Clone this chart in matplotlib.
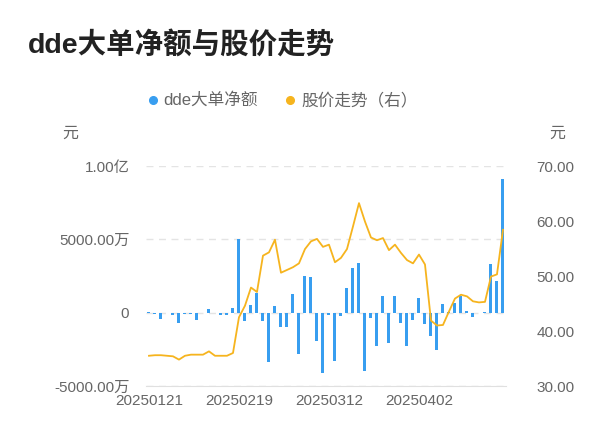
import matplotlib.pyplot as plt
from matplotlib.lines import Line2D
import numpy as np

plt.rcParams['font.family'] = ['Liberation Sans', 'Noto Sans CJK SC', 'DejaVu Sans']

dates = ['20250121', '20250122', '20250123', '20250124', '20250127', '20250205', '20250206',
         '20250207', '20250210', '20250211', '20250212', '20250213', '20250214', '20250217',
         '20250218', '20250219', '20250220', '20250221', '20250224', '20250225', '20250226',
         '20250227', '20250228', '20250303', '20250304', '20250305', '20250306', '20250307',
         '20250310', '20250311', '20250312', '20250313', '20250314', '20250317', '20250318',
         '20250319', '20250320', '20250321', '20250324', '20250325', '20250326', '20250327',
         '20250328', '20250331', '20250401', '20250402', '20250403', '20250407', '20250408',
         '20250409', '20250410', '20250411', '20250414', '20250415', '20250416', '20250417',
         '20250418', '20250421', '20250422', '20250423']

# dde net amount, unit: 万元
dde = [80, -100, -400, -30, -160, -720, -70, -60, -500, -30,
       270, -40, -130, -180, 290, 5020, -560, 540, 1350, -590,
       -3380, 450, -1010, -950, 1300, -2850, 2480, 2430, -1910, -4100,
       -160, -3290, -230, 1690, 3040, 3380, -3970, -340, -2300, 1130,
       -2090, 1170, -720, -2300, -500, 970, -770, -1580, -2570, 610,
       50, 680, 1130, 140, -270, -20, 20, 3310, 2140, 9140]

# close price, unit: 元
price = [35.5, 35.6, 35.6, 35.5, 35.4, 34.8, 35.5, 35.7, 35.7, 35.7,
         36.3, 35.5, 35.5, 35.5, 36.0, 42.5, 44.6, 47.9, 47.1, 53.7,
         54.3, 56.6, 50.6, 51.1, 51.6, 52.3, 54.9, 56.3, 56.75, 55.3,
         55.7, 52.5, 53.3, 54.9, 59.0, 63.25, 59.9, 57.0, 56.5, 56.9,
         54.7, 55.7, 54.2, 52.9, 52.3, 53.9, 52.1, 41.9, 41.0, 41.1,
         43.55, 45.9, 46.6, 46.3, 45.4, 45.2, 45.3, 49.9, 50.3, 58.4]

left_ticks = [-5000, 0, 5000, 10000]
left_labels = ['-5000.00万', '0', '5000.00万', '1.00亿']
right_ticks = [30, 40, 50, 60, 70]
label_idx = [0, 15, 30, 45]

blue = '#389EF0'
orange = '#F6B41E'
grey = '#666666'

fig = plt.figure(figsize=(6, 4.46), dpi=100)
ax = fig.add_axes([0.2433, 0.1345, 0.6, 0.4933])
x = np.arange(len(dates))

ax.bar(x, dde, width=0.5, color=blue, zorder=2)
ax.set_xlim(-0.5, len(dates) - 0.5)
ax.set_ylim(-5000, 10000)
ax.set_yticks(left_ticks)
ax.set_yticklabels(left_labels)
ax.set_xticks(label_idx)
ax.set_xticklabels([dates[i] for i in label_idx])
ax.grid(axis='y', linestyle=(0, (5, 4)), color='#e4e4e4', linewidth=1, zorder=0)
for s in ['top', 'left', 'right']:
    ax.spines[s].set_visible(False)
ax.spines['bottom'].set_color('#e0e0e0')
ax.tick_params(axis='both', length=0, labelsize=11, labelcolor=grey)
ax.tick_params(axis='y', pad=12)
ax.tick_params(axis='x', pad=6)

ax2 = ax.twinx()
ax2.plot(x, price, color=orange, linewidth=1.3, zorder=3)
ax2.set_ylim(30, 70)
ax2.set_yticks(right_ticks)
ax2.set_yticklabels(['%.2f' % v for v in right_ticks])
for s in ['top', 'left', 'right', 'bottom']:
    ax2.spines[s].set_visible(False)
ax2.tick_params(axis='y', length=0, labelsize=11, labelcolor=grey, pad=22)

fig.text(28 / 600, 1 - 45 / 446, 'dde大单净额与股价走势', fontsize=20.5, fontweight='bold',
         color='#222222', va='center', ha='left')
fig.text(70 / 600, 1 - 133 / 446, '元', fontsize=11.5, color=grey, va='center', ha='center')
fig.text(557 / 600, 1 - 133 / 446, '元', fontsize=11.5, color=grey, va='center', ha='center')

# legend
ly = 1 - 100 / 446
for cx, col in [(153, blue), (290, orange)]:
    fig.add_artist(Line2D([cx / 600], [ly], marker='o', markersize=5.5, color=col,
                          linestyle='none', transform=fig.transFigure))
fig.text(163 / 600, ly, 'dde大单净额', fontsize=12, color=grey, va='center', ha='left')
fig.text(301 / 600, ly, '股价走势（右）', fontsize=12, color=grey, va='center', ha='left')

fig.savefig('out.png', dpi=100)
